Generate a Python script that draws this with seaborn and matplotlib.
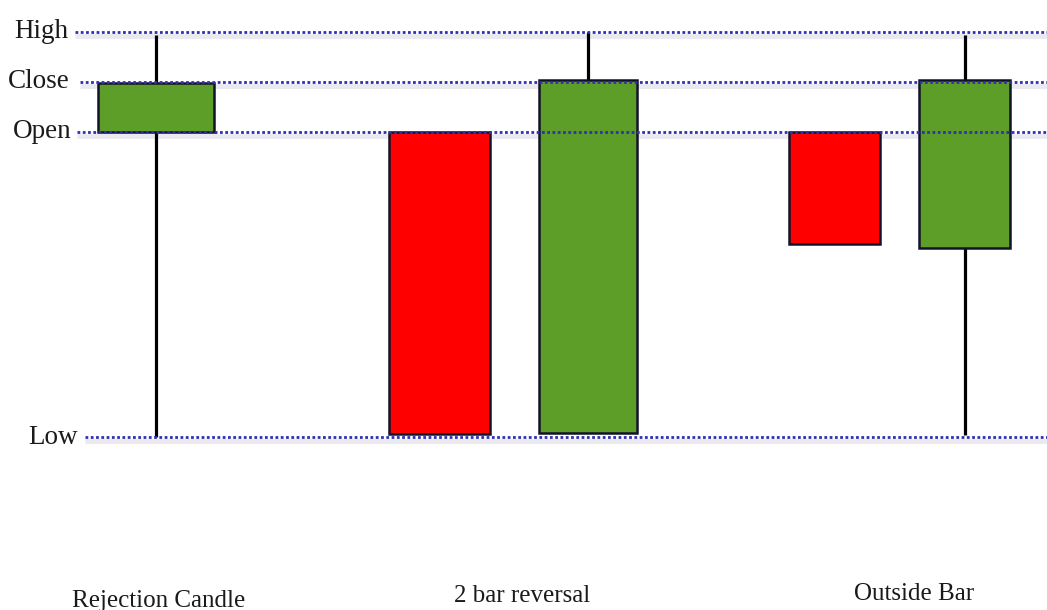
import matplotlib
matplotlib.use("Agg")
import matplotlib.pyplot as plt
import seaborn as sns

# price levels (arbitrary units, High = 100)
level_names = ["High", "Close", "Open", "Low"]
level_values = [100, 90, 80, 19]

# candles: open / close / high / low
candle_open = [80, 80, 19.8, 80, 56.8]
candle_close = [89.8, 19.6, 90.4, 57.6, 90.4]
candle_high = [99.4, 80, 100, 80, 99.4]
candle_low = [19, 19.6, 19.8, 57.6, 19.4]

group_names = ["Rejection Candle", "2 bar reversal", "Outside Bar"]

# layout (x in units of 100 px)
candle_x = [1.56, 4.395, 5.88, 8.345, 9.645]
candle_w = [1.16, 1.01, 0.98, 0.91, 0.91]
label_end = [0.68, 0.70, 0.72, 0.78]
line_start = [0.75, 0.80, 0.77, 0.85]
group_x = [1.59, 5.22, 9.14]
group_y = [-15.0, -14.0, -13.6]

GREEN = "#5c9e28"
RED = "#ff0000"
EDGE = "#12122a"
DOT = "#3030b0"

sns.set_style("white")
plt.rcParams["font.family"] = ["Liberation Serif", "DejaVu Serif"]

fig = plt.figure(figsize=(10.47, 6.10), dpi=100)
ax = fig.add_axes([0, 0, 1, 1])
ax.set_xlim(0, 10.47)
ax.set_ylim(-15.6, 106.4)
ax.axis("off")

# dotted level lines with a faint shadow
for name, val, x0, xe in zip(level_names, level_values, line_start, label_end):
    ax.hlines(val - 0.7, x0, 10.47, color="#e9e9ef", linewidth=3.5, zorder=1)
    ax.hlines(val, x0, 10.47, color=DOT, linewidth=2.0,
              linestyle=(0, (1, 0.9)), zorder=4)
    ax.text(xe, val, name, ha="right", va="center", fontsize=19.5,
            color="#1a1a1a")

# candles
for x, w, o, c, h, l in zip(candle_x, candle_w, candle_open, candle_close,
                            candle_high, candle_low):
    color = GREEN if c > o else RED
    ax.vlines(x, l, h, color="black", linewidth=2.3, zorder=2)
    ax.bar(x, abs(c - o), bottom=min(o, c), width=w, color=color,
           edgecolor=EDGE, linewidth=1.8, zorder=3)

for name, x, y in zip(group_names, group_x, group_y):
    ax.text(x, y, name, ha="center", va="baseline", fontsize=18,
            color="#1a1a1a")

fig.savefig("out.png", dpi=100, facecolor="white")
